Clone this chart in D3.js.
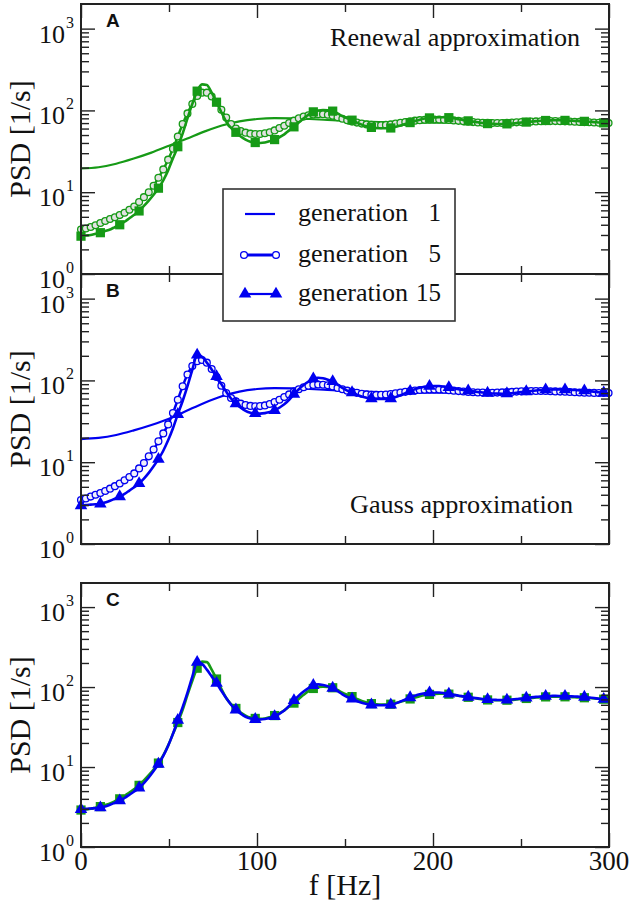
<!DOCTYPE html>
<html>
<head>
<meta charset="utf-8">
<script src="https://cdnjs.cloudflare.com/ajax/libs/d3/7.8.5/d3.min.js"></script>
<style>
body { margin: 0; background: #fff; }
</style>
</head>
<body>
<div id="viz"></div>
<script>
// grid of the dense curves (Hz) - markers of generation 15 sit on every 4th point
var step = 2.75;
var markEvery = 4;

// generation 1, read every 10 Hz
var coarseF = [0,10,20,30,40,50,60,70,80,90,100,110,120,130,140,150,160,170,180,190,200,210,220,230,240,250,260,270,280,290,300];
var renewalGen1 = [19.5,20.2,22.3,25.8,30.5,37,45,55,65.5,73.5,78.5,80.5,80,78.5,76.5,74.5,73,72,71.5,71,71,71,70.8,70.7,70.6,70.5,70.4,70.3,70.2,70.1,70];
var gaussGen1 = [19.2,19.8,21.5,24.5,28.5,34,42.5,53,64,73,78.5,80.5,80,78.5,76.5,74.5,73,72,71.5,71,71,71,70.8,70.7,70.6,70.5,70.4,70.3,70.2,70.1,70];

// renewal approximation
var renewalGen5 = [
  3.5,3.6,3.75,3.95,4.2,4.45,4.7,4.95,5.25,5.6,
  6.1,6.7,7.6,8.7,10,12,15,19,25,34,
  48,68,92,120,150,165,165,148,126,102,
  82,68,60,56,53.5,52,51.5,51.5,52.5,54,
  57,61,65,70,75,80,84,87,89,90,
  90,88.5,86,82.5,79,76,73,71,69,67.5,
  66.5,66,66,66.5,67.5,69,70.5,72,73.5,75,
  76,77,77.5,77.5,77.3,77,76.3,75.5,74.5,73.5,
  72.7,72,71.3,70.8,70.4,70.2,70.2,70.3,70.5,71,
  71.5,72,72.5,73,73.4,73.7,74,74,74,73.8,
  73.5,73.2,72.8,72.4,72,71.6,71.2,70.8,70.5,70.2
];
var renewalGen15 = [
  2.9,2.95,3.0,3.1,3.2,3.35,3.5,3.75,4.0,4.35,
  4.8,5.3,5.9,6.8,7.9,9.3,11.2,14,18.5,26,
  36,52,80,120,172,208,205,165,126,95,
  73,61,54,48,44,41.5,40.5,40,40.5,42,
  44,47,51,57,63,71,80,89,96,100,
  101,100,98,92,85,80,76,71,67,64,
  62,61,60.5,60.5,61,63,65.5,68,71,74,
  77,79.5,81,82,82.5,82.5,81.5,80,78,76,
  74.5,73,71.5,70,69,68.5,68.3,68.3,68.5,69,
  70,71,72,73,74,74.8,75.3,75.6,75.8,75.8,
  75.5,75,74.5,74,73.5,72.8,72,71.3,70.5,70
];

// Gauss approximation
var gaussGen5 = [
  3.45,3.6,3.8,4.0,4.2,4.45,4.75,5.1,5.5,6.0,
  6.6,7.3,8.4,9.8,11.8,14.3,18,22.5,29,40,
  58,85,118,150,172,178,165,138,110,86,
  70,61,55.5,52,50,48.8,48.3,48.5,49.5,51.5,
  54.5,58,62.5,67.5,73,78,82.5,86,88,89,
  88.5,87,84.5,81,78,75,72.5,70.5,68.8,67.5,
  66.8,66.5,66.6,67.2,68.2,69.5,71,72.5,74,75.3,
  76.3,77,77.4,77.5,77.3,76.8,76,75,74,73.2,
  72.4,71.8,71.3,71,70.8,70.8,71,71.4,71.9,72.4,
  73,73.5,73.9,74.2,74.3,74.3,74.1,73.8,73.4,73,
  72.6,72.1,71.7,71.3,70.9,70.6,70.4,70.2,70.1,70
];
var gaussGen15 = [
  2.95,3.0,3.03,3.06,3.1,3.22,3.38,3.58,3.8,4.1,
  4.5,4.95,5.5,6.3,7.4,8.9,10.9,13.8,18.5,26,
  38.5,56,85,135,205,195,165,136,112,90,
  73,60,52,46.5,42.5,40.3,39.5,39.3,39.8,41,
  43,46.5,51,58,68,78,88,97,105,108,
  106,102,97,89,81,75,71,67,63.5,61.5,
  60,59.5,59.3,59.5,60,62.5,66,70,74,78,
  81.5,83.8,85,85.5,85.3,84,82,80,78,76.5,
  75,73.5,72.2,71,70,69.3,69,68.8,69,69.8,
  70.8,72,73,74.2,75.3,76.2,77,77.4,77.5,77.3,
  77,76.6,76.2,75.6,75,74,72.8,71.5,70.5,70
];

var xTicksMajor = [0,100,200,300];
var xTicksMinor = [50,150,250];
var yTicksMajor = [1,10,100,1000];
var yTicksMinor = [2,3,4,5,6,7,8,9,20,30,40,50,60,70,80,90,200,300,400,500,600,700,800,900];
var legendNums = ['1','5','15'];

var green = '#169a16';
var blue = '#0000f0';
var serif = '"Liberation Serif", "Times New Roman", serif';

var W = 630, H = 908;
var left = 81, right = 609;

var svg = d3
.select('#viz')
.append('svg')
.attr('width', W)
.attr('height', H)
;

var x = d3.scaleLinear().domain([0, 300]).range([left, right]);

function dense(arr) {
  return arr.map(function(v, i){ return {f: i * step, v: v}; });
}
function coarse(arr) {
  return arr.map(function(v, i){ return {f: coarseF[i], v: v}; });
}

var panels = [
  {top: 4, bottom: 274, letter: 'A', note: 'Renewal approximation', noteX: 580, noteY: 46, noteW: 250,
   series: [
     {kind: 'line', data: coarse(renewalGen1), color: green},
     {kind: 'circle', data: dense(renewalGen5), color: green, fill: '#e2e2e2'},
     {kind: 'square', data: dense(renewalGen15), color: green}
   ]},
  {top: 274, bottom: 544, letter: 'B', note: 'Gauss approximation', noteX: 573, noteY: 513, noteW: 223,
   series: [
     {kind: 'line', data: coarse(gaussGen1), color: blue},
     {kind: 'circle', data: dense(gaussGen5), color: blue, fill: '#f0f0fa'},
     {kind: 'triangle', data: dense(gaussGen15), color: blue}
   ]},
  {top: 583, bottom: 847, letter: 'C', xlabels: true,
   series: [
     {kind: 'square', data: dense(renewalGen15), color: green},
     {kind: 'triangle', data: dense(gaussGen15), color: blue}
   ]}
];

panels.forEach(drawPanel);
drawLegend();

function drawPanel(p) {
  var y = d3.scaleLog().domain([1, 2000]).range([p.bottom, p.top]);
  var g = svg.append('g');

  var line = d3.line()
  .x(function(d){ return x(d.f); })
  .y(function(d){ return y(d.v); })
  .curve(d3.curveMonotoneX)
  ;

  p.series.forEach(function(s) {
    if (s.kind === 'line') {
      g.append('path')
      .attr('d', line(s.data))
      .attr('fill', 'none')
      .attr('stroke', s.color)
      .attr('stroke-width', 2.2)
      ;
    }
    if (s.kind === 'circle') {
      g.append('path')
      .attr('d', line(s.data))
      .attr('fill', 'none')
      .attr('stroke', s.color)
      .attr('stroke-width', 2.5)
      ;
      g.selectAll(null)
      .data(s.data)
      .enter()
      .append('circle')
      .attr('cx', function(d){ return x(d.f); })
      .attr('cy', function(d){ return y(d.v); })
      .attr('r', 3.4)
      .attr('fill', s.fill)
      .attr('stroke', s.color)
      .attr('stroke-width', 1.3)
      ;
    }
    if (s.kind === 'square' || s.kind === 'triangle') {
      g.append('path')
      .attr('d', line(s.data))
      .attr('fill', 'none')
      .attr('stroke', s.color)
      .attr('stroke-width', 2.6)
      ;
      var sym = s.kind === 'square'
        ? d3.symbol().type(d3.symbolSquare).size(85)
        : d3.symbol().type(d3.symbolTriangle).size(68);
      g.selectAll(null)
      .data(s.data.filter(function(d, i){ return i % markEvery === 0; }))
      .enter()
      .append('path')
      .attr('d', sym)
      .attr('transform', function(d){ return 'translate(' + x(d.f) + ',' + y(d.v) + ')'; })
      .attr('fill', s.color)
      ;
    }
  });

  // ticks pointing inwards on all four sides
  function ticks(axis, tx, ty, values, len) {
    var a = g.append('g')
    .attr('transform', 'translate(' + tx + ',' + ty + ')')
    .call(axis.tickValues(values).tickSize(-len).tickFormat(''))
    ;
    a.select('.domain').remove();
    a.selectAll('line').attr('stroke', '#222').attr('stroke-width', 1.4);
  }
  ticks(d3.axisLeft(y), left, 0, yTicksMajor, 14);
  ticks(d3.axisLeft(y), left, 0, yTicksMinor, 8);
  ticks(d3.axisRight(y), right, 0, yTicksMajor, 14);
  ticks(d3.axisRight(y), right, 0, yTicksMinor, 8);
  ticks(d3.axisBottom(x), 0, p.bottom, xTicksMajor, 14);
  ticks(d3.axisBottom(x), 0, p.bottom, xTicksMinor, 8);
  ticks(d3.axisTop(x), 0, p.top, xTicksMajor, 14);
  ticks(d3.axisTop(x), 0, p.top, xTicksMinor, 8);

  g.append('rect')
  .attr('x', left)
  .attr('y', p.top)
  .attr('width', right - left)
  .attr('height', p.bottom - p.top)
  .attr('fill', 'none')
  .attr('stroke', '#222')
  .attr('stroke-width', 2)
  ;

  // y tick labels 10^n
  var lab = g.selectAll(null)
  .data(yTicksMajor)
  .enter()
  .append('text')
  .attr('x', 74)
  .attr('y', function(d){ return y(d) + 14; })
  .attr('text-anchor', 'end')
  .attr('font-family', serif)
  .attr('font-size', '26px')
  .attr('fill', '#111')
  ;
  lab.append('tspan').text('10');
  lab.append('tspan')
  .text(function(d){ return Math.round(Math.log10(d)); })
  .attr('dx', 1)
  .attr('dy', -15)
  .attr('font-size', '16px')
  ;

  g.append('text')
  .text('PSD [1/s]')
  .attr('transform', 'translate(30,' + (p.top + p.bottom) / 2 + ') rotate(-90)')
  .attr('text-anchor', 'middle')
  .attr('font-family', serif)
  .attr('font-size', '30px')
  .attr('fill', '#111')
  ;

  g.append('text')
  .text(p.letter)
  .attr('x', 106)
  .attr('y', p.top + 23)
  .attr('font-family', '"Liberation Sans", Arial, sans-serif')
  .attr('font-weight', 'bold')
  .attr('font-size', '19px')
  .attr('fill', '#111')
  ;

  if (p.note) {
    g.append('text')
    .text(p.note)
    .attr('x', p.noteX)
    .attr('y', p.noteY)
    .attr('text-anchor', 'end')
    .attr('font-family', serif)
    .attr('font-size', '25px')
    .attr('textLength', p.noteW)
    .attr('lengthAdjust', 'spacingAndGlyphs')
    .attr('fill', '#111')
    ;
  }

  if (p.xlabels) {
    g.selectAll(null)
    .data(xTicksMajor)
    .enter()
    .append('text')
    .text(function(d){ return d; })
    .attr('x', function(d){ return x(d); })
    .attr('y', 870)
    .attr('text-anchor', 'middle')
    .attr('font-family', serif)
    .attr('font-size', '27px')
    .attr('fill', '#111')
    ;
    g.append('text')
    .text('f [Hz]')
    .attr('x', (left + right) / 2)
    .attr('y', 895)
    .attr('text-anchor', 'middle')
    .attr('font-family', serif)
    .attr('font-size', '30px')
    .attr('fill', '#111')
    ;
  }
}

function drawLegend() {
  var g = svg.append('g');
  g.append('rect')
  .attr('x', 223)
  .attr('y', 189)
  .attr('width', 232)
  .attr('height', 132)
  .attr('fill', '#fff')
  .attr('stroke', '#333')
  .attr('stroke-width', 1.6)
  ;
  var rows = [214, 255, 294];
  rows.forEach(function(ry, i) {
    if (i === 0) {
      g.append('line')
      .attr('x1', 245).attr('x2', 275)
      .attr('y1', ry).attr('y2', ry)
      .attr('stroke', blue).attr('stroke-width', 2.2)
      ;
    }
    if (i === 1) {
      g.append('line')
      .attr('x1', 246).attr('x2', 272)
      .attr('y1', ry).attr('y2', ry)
      .attr('stroke', blue).attr('stroke-width', 3)
      ;
      [244, 276].forEach(function(cx) {
        g.append('circle')
        .attr('cx', cx).attr('cy', ry).attr('r', 3.4)
        .attr('fill', '#fff').attr('stroke', blue).attr('stroke-width', 1.3)
        ;
      });
    }
    if (i === 2) {
      g.append('line')
      .attr('x1', 245).attr('x2', 276)
      .attr('y1', ry).attr('y2', ry)
      .attr('stroke', blue).attr('stroke-width', 2.2)
      ;
      [245, 276].forEach(function(cx) {
        g.append('path')
        .attr('d', d3.symbol().type(d3.symbolTriangle).size(68))
        .attr('transform', 'translate(' + cx + ',' + ry + ')')
        .attr('fill', blue)
        ;
      });
    }
    g.append('text')
    .text('generation')
    .attr('x', 298)
    .attr('y', ry + 7)
    .attr('font-family', serif)
    .attr('font-size', '25px')
    .attr('textLength', 110)
    .attr('lengthAdjust', 'spacingAndGlyphs')
    .attr('fill', '#111')
    ;
    g.append('text')
    .text(legendNums[i])
    .attr('x', 441)
    .attr('y', ry + 7)
    .attr('text-anchor', 'end')
    .attr('font-family', serif)
    .attr('font-size', '25px')
    .attr('fill', '#111')
    ;
  });
}
</script>
</body>
</html>
